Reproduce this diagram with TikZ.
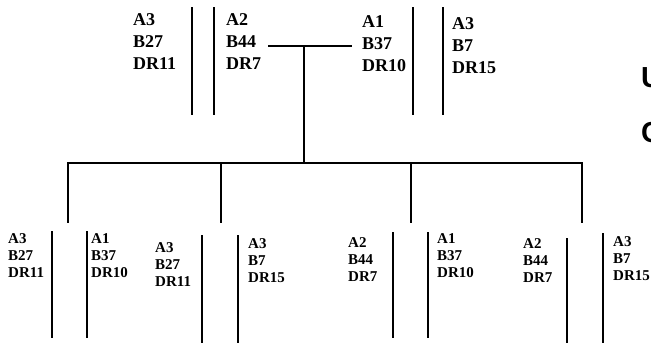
\documentclass[tikz,border=0pt]{standalone}
\usepackage{fontspec}
\setmainfont{Liberation Serif}
\newfontfamily\semserifa{Liberation Sans}
\usetikzlibrary{positioning}

\begin{document}
\begin{tikzpicture}[x=1pt, y=-1pt,
    pai/.style={font=\fontsize{18}{22}\selectfont\bfseries, align=left, inner sep=0pt, anchor=north west},
    filho/.style={font=\fontsize{15}{17}\selectfont\bfseries, align=left, inner sep=0pt, anchor=north west},
    margem/.style={font=\semserifa\bfseries\fontsize{29}{29}\selectfont, anchor=west, inner sep=0pt},
    cromo/.style={line width=2.6pt},
    fino/.style={line width=1.9pt},
    ramo/.style={line width=2pt}]
    \useasboundingbox (0,0) rectangle (651,343);

    % pais
    \node[pai] (p1e) at (133,13) {A3\\B27\\DR11};
    \node[pai] (p1d) at (226,13) {A2\\B44\\DR7};
    \node[pai] (p2e) at (362,15) {A1\\B37\\DR10};
    \node[pai] (p2d) at (452,17) {A3\\B7\\DR15};
    \foreach \x in {192,413,443} \draw[cromo] (\x,7) -- (\x,115);
    \draw[fino] (214,7) -- (214,115);

    % casal e irmandade
    \coordinate (uniaoE) at (268,46);
    \coordinate (uniaoD) at (352,46);
    \coordinate (casal) at (304,46);
    \coordinate (irmaos) at (304,163);
    \draw[line width=1.5pt] (uniaoE) -- (uniaoD);
    \draw[line width=2.6pt] (casal) -- (irmaos);
    \foreach \x/\n in {68/1,221/2,411/3,582/4} {
        \coordinate (f\n) at (\x,163);
        \coordinate (g\n) at (\x,223);
    }
    \draw[ramo] ([xshift=-1pt]f1) -- ([xshift=1pt]f4);
    \foreach \n in {1,...,4} \draw[line width=2.4pt] (f\n) -- (g\n);

    % filhos
    \node[filho] (f1e) at (8,233) {A3\\B27\\DR11};
    \node[filho] (f1d) at (91,233) {A1\\B37\\DR10};
    \node[filho] (f2e) at (155,242) {A3\\B27\\DR11};
    \node[filho] (f2d) at (248,238) {A3\\B7\\DR15};
    \node[filho] (f3e) at (348,237) {A2\\B44\\DR7};
    \node[filho] (f3d) at (437,233) {A1\\B37\\DR10};
    \node[filho] (f4e) at (523,238) {A2\\B44\\DR7};
    \node[filho] (f4d) at (613,236) {A3\\B7\\DR15};
    \foreach \x/\a/\b in {52/231/338,202/235/343,238/235/343,393/232/338,428/232/338,567/238/343,603/233/343}
        \draw[cromo] (\x,\a) -- (\x,\b);
    \draw[fino] (87,231) -- (87,338);

    % texto cortado na margem
    \node[margem] (u) at (641,78) {U};
    \node[margem] (c) at (641,133) {C};
\end{tikzpicture}
\end{document}
